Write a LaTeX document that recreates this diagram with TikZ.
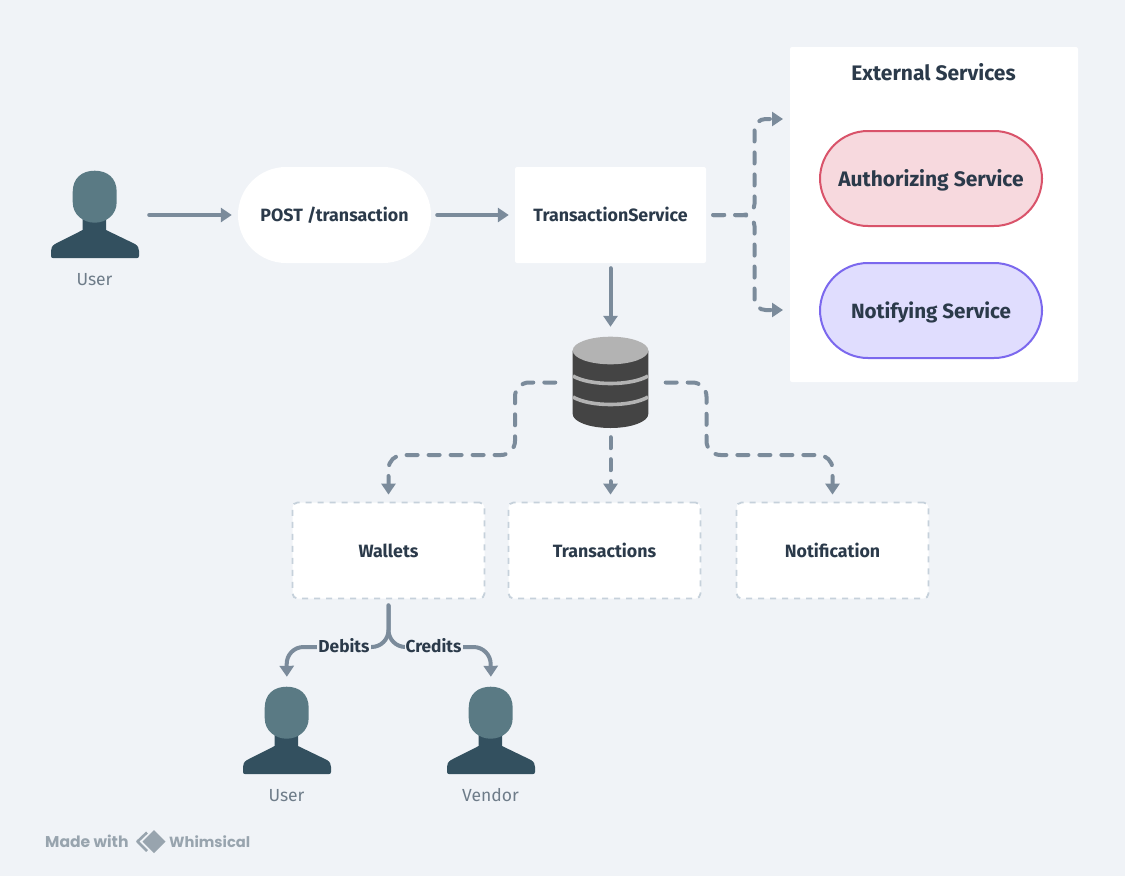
\documentclass[tikz,border=0pt]{standalone}
\usepackage{fontspec}
\setmainfont{Fira Sans}
\newfontfamily\logofont{Poppins}
\usetikzlibrary{arrows.meta}
\definecolor{bgc}{HTML}{F0F3F7}
\definecolor{conn}{HTML}{7B8B9B}
\definecolor{ink}{HTML}{2B3A4A}
\definecolor{sub}{HTML}{6E7C89}
\definecolor{headc}{HTML}{5A7A84}
\definecolor{bodyc}{HTML}{33505F}
\definecolor{dbdark}{HTML}{444444}
\definecolor{dblight}{HTML}{B3B3B3}
\definecolor{dashb}{HTML}{C6D1DB}
\definecolor{logoc}{HTML}{98A4AE}
\definecolor{authfill}{HTML}{F7D9DE}
\definecolor{authline}{HTML}{D9536A}
\definecolor{notifill}{HTML}{E0DDFE}
\definecolor{notiline}{HTML}{7B68EE}
\newcommand{\fs}[1]{\fontsize{#1}{#1}\selectfont}
\newcommand{\person}[4]{%
  \begin{scope}[shift={(#1,#2)}]
    \fill[bodyc] (82.7,215) -- (106,215) -- (106,230) -- (135,244) .. controls (138,246) and (139,248) .. (139,251) -- (139,256) .. controls (139,257.5) and (138,258) .. (137,258) -- (53,258) .. controls (52,258) and (51,257.5) .. (51,256) -- (51,251) .. controls (51,248) and (52,246) .. (55,244) -- (82.7,230) -- cycle;
    \fill[headc] (72.7,192) .. controls (72.7,178) and (82,170.7) .. (94.7,170.7) .. controls (107.5,170.7) and (116.7,178) .. (116.7,192) -- (116.7,202) .. controls (116.7,215) and (106,222.7) .. (94.7,222.7) .. controls (83.5,222.7) and (72.7,215) .. (72.7,202) -- cycle;
    \node[personbox] (#3) at (95,215) {};
    \node[personlabel] (#3label) at (94.5,278) {#4};
  \end{scope}}
\tikzset{
  whitebox/.style={fill=white,draw=none,rounded corners=2pt,minimum width=191pt,minimum height=96pt,inner sep=0pt,text=ink,font=\bfseries\fs{17.8},text height=13pt,text depth=0pt},
  pillbox/.style={whitebox,rounded corners=48pt,minimum width=193pt},
  tablebox/.style={whitebox,draw=dashb,line width=1.8pt,dash pattern=on 6pt off 6pt,rounded corners=5pt,minimum width=192pt},
  servicebox/.style={fill=#1,rounded corners=48pt,minimum width=222pt,minimum height=95pt,inner sep=0pt,line width=2pt,text=ink,font=\bfseries\fs{21},text height=16pt,text depth=0pt},
  personbox/.style={minimum width=88pt,minimum height=86pt,inner sep=0pt,draw=none},
  personlabel/.style={text=sub,font=\fs{17.5},inner sep=0pt,text height=14pt,text depth=0pt},
  conna/.style={draw=conn,line width=4pt,line cap=round,-{Triangle[length=11pt,width=14pt]}},
  connd/.style={conna,dash pattern=on 11pt off 11pt},
  edgelabel/.style={fill=bgc,text=ink,font=\bfseries\fs{17.3},inner sep=1pt},
}
\begin{document}
\begin{tikzpicture}[x=1pt,y=-1pt]
\fill[bgc] (0,0) rectangle (1125,876);
\useasboundingbox (0,0) rectangle (1125,876);
% external panel
\node[fill=white,rounded corners=2pt,minimum width=288pt,minimum height=335pt,inner sep=0pt] (ext) at (934,214.5) {};
\node[text=ink,font=\bfseries\fs{21},inner sep=0pt,text height=15pt,text depth=0pt] (exttitle) at (933.5,72.5) {External Services};
\node[servicebox={authfill},draw=authline] (auth) at (931,178.5) {Authorizing Service};
\node[servicebox={notifill},draw=notiline,font=\bfseries\fs{20.6}] (noti) at (931,310.5) {Notifying Service};
% main nodes
\person{0}{0}{userA}{User}
\person{192}{516}{userB}{User}
\person{396}{516}{vendor}{Vendor}
\node[pillbox] (post) at (334.5,215) {POST /transaction};
\node[whitebox] (ts) at (610.5,215) {TransactionService};
\node[tablebox] (wallets) at (388.5,550.5) {Wallets};
\node[tablebox] (txs) at (604.5,550.5) {Transactions};
\node[tablebox] (notif) at (832.5,550.5) {Notification};
% database
\node[minimum width=76pt,minimum height=91pt,inner sep=0pt] (db) at (610.5,382.5) {};
\fill[dbdark] (572.7,350.5) -- (572.7,414) arc[start angle=180,end angle=360,x radius=37.8pt,y radius=14pt] -- (648.3,350.5) -- cycle;
\fill[dblight] (572.7,350.5) arc[start angle=180,end angle=-180,x radius=37.8pt,y radius=13.8pt] -- cycle;
\draw[dblight,line width=3.6pt] (573,376) .. controls (590,386) and (631,386) .. (648,376);
\draw[dblight,line width=3.6pt] (573,397) .. controls (590,407) and (631,407) .. (648,397);
% connectors
\draw[conna,shorten <=10pt,shorten >=6pt] (userA.east) -- (post.west);
\draw[conna,shorten <=6pt,shorten >=6pt] (post.east) -- (ts.west);
\draw[conna,shorten <=5pt,shorten >=10pt] (ts.south) -- (db.north);
\draw[connd,shorten <=7pt,rounded corners=11pt] (ts.east) -- (754.5,215) -- (754.5,119) -- (783,119);
\draw[connd,shorten <=7pt,rounded corners=11pt] (ts.east) -- (754.5,215) -- (754.5,310) -- (783,310);
\draw[connd,shorten <=17pt,shorten >=7pt,rounded corners=14pt] (db.west) -- (515,382.5) -- (515,455) -- (388.5,455) -- (wallets.north);
\draw[connd,shorten <=9pt,shorten >=7pt] (db.south) -- (db.south |- txs.north);
\draw[connd,shorten <=17pt,shorten >=7pt,rounded corners=14pt] (db.east) -- (706.5,382.5) -- (706.5,455) -- (832.5,455) -- (notif.north);
\draw[conna,shorten <=6pt,shorten >=11pt,rounded corners=17pt] (wallets.south) -- (388.5,647) -- (286.5,647) -- (userB.north);
\draw[conna,shorten <=6pt,shorten >=11pt,rounded corners=17pt] (wallets.south) -- (388.5,647) -- (490.5,647) -- (vendor.north);
\node[edgelabel] (debits) at (344,646) {Debits};
\node[edgelabel] (credits) at (433.5,646) {Credits};
% watermark
\node[anchor=west,text=logoc,font=\logofont\bfseries\fs{15.6},inner sep=0pt] (made) at (45,841.5) {Made with};
\draw[logoc,line width=2.6pt,line join=round] (147,832.5) -- (137.5,841.5) -- (147,851);
\fill[logoc] (154,830) -- (165.5,841.5) -- (154,853) -- (142.5,841.5) -- cycle;
\node[anchor=west,text=logoc,font=\logofont\bfseries\fs{14.7},inner sep=0pt] (whim) at (169,841.5) {Whimsical};
\end{tikzpicture}
\end{document}
